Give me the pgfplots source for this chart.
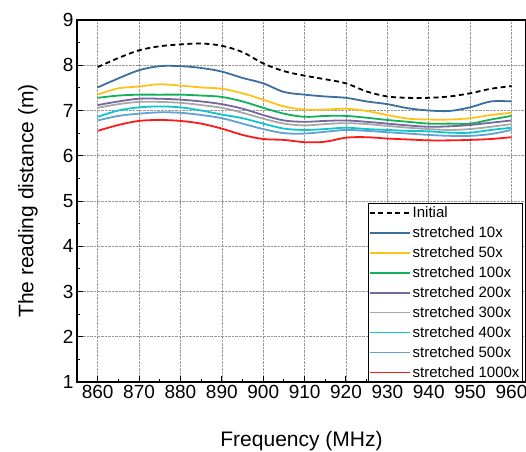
\documentclass[border=0pt]{standalone}
\usepackage{fontspec}
\setmainfont{Liberation Sans}
\usepackage{pgfplots}
\pgfplotsset{compat=1.18}

\definecolor{cTen}{HTML}{3C6E9E}
\definecolor{cFifty}{HTML}{FFC21A}
\definecolor{cHund}{HTML}{12B05A}
\definecolor{cTwoH}{HTML}{75689E}
\definecolor{cThreeH}{HTML}{A8A8A8}
\definecolor{cFourH}{HTML}{10C4CC}
\definecolor{cFiveH}{HTML}{63A0D4}
\definecolor{cThou}{HTML}{FF1A1A}

\begin{document}
\begin{tikzpicture}
\path[use as bounding box] (-77bp,-70bp) rectangle (449bp,382bp);
\begin{axis}[
  at={(0,0)}, anchor=south west,
  scale only axis,
  width=449bp, height=362bp,
  xmin=855, xmax=963.5,
  ymin=1, ymax=9,
  xtick={860,870,...,960},
  ytick={1,2,...,9},
  minor x tick num=1,
  minor y tick num=1,
  xtick pos=bottom, ytick pos=left,
  tick align=inside,
  major tick length=6bp,
  minor tick length=3.5bp,
  every tick/.style={black, line width=1bp},
  axis line style={black, line width=1.5bp},
  grid=major,
  major grid style={densely dotted, gray!80, line width=0.6bp},
  /pgf/number format/assume math mode=true,
  /pgf/number format/1000 sep={},
  tick label style={font=\fontsize{19bp}{22bp}\selectfont},
  label style={font=\fontsize{21bp}{25bp}\selectfont},
  xlabel={Frequency (MHz)},
  ylabel={The reading distance (m)},
  xlabel style={at={(axis description cs:0.5,-0.162)}, anchor=center},
  ylabel style={at={(axis description cs:-0.109,0.5)}, anchor=center},
  legend cell align=left,
  legend style={at={(rel axis cs:0.993,0)}, anchor=south east,
    font=\fontsize{15bp}{17bp}\selectfont, draw=black, line width=0.8bp,
    inner sep=1bp, row sep=3.6bp},
  legend image code/.code={\draw[#1, line width=1.8bp] (0bp,0bp) -- (40bp,0bp);},
  every axis plot/.append style={smooth, tension=0.55, line width=1.8bp, no markers},
]
\addplot[black, dash pattern=on 5bp off 3.5bp] coordinates {
(860,7.96)(865,8.16)(870,8.33)(875,8.42)(880,8.46)(885,8.48)(890,8.43)
(895,8.29)(900,8.04)(905,7.87)(910,7.77)(915,7.69)(920,7.60)(925,7.42)
(930,7.31)(935,7.28)(940,7.28)(945,7.31)(950,7.38)(955,7.48)(960,7.54)};
\addlegendentry{Initial}
\addplot[cTen] coordinates {
(860,7.51)(865,7.71)(870,7.89)(875,7.98)(880,7.98)(885,7.94)(890,7.86)
(895,7.72)(900,7.60)(905,7.41)(910,7.35)(915,7.31)(920,7.28)(925,7.20)
(930,7.14)(935,7.05)(940,7.00)(945,6.99)(950,7.07)(955,7.20)(960,7.20)};
\addlegendentry{stretched 10x}
\addplot[cFifty] coordinates {
(860,7.35)(865,7.49)(870,7.53)(875,7.58)(880,7.55)(885,7.51)(890,7.48)
(895,7.38)(900,7.24)(905,7.09)(910,7.02)(915,7.02)(920,7.04)(925,6.99)
(930,6.90)(935,6.82)(940,6.80)(945,6.80)(950,6.83)(955,6.90)(960,6.95)};
\addlegendentry{stretched 50x}
\addplot[cHund] coordinates {
(860,7.28)(865,7.33)(870,7.35)(875,7.35)(880,7.35)(885,7.33)(890,7.30)
(895,7.20)(900,7.06)(905,6.93)(910,6.86)(915,6.88)(920,6.88)(925,6.84)
(930,6.79)(935,6.75)(940,6.71)(945,6.71)(950,6.71)(955,6.80)(960,6.88)};
\addlegendentry{stretched 100x}
\addplot[cTwoH] coordinates {
(860,7.12)(865,7.20)(870,7.26)(875,7.26)(880,7.24)(885,7.20)(890,7.14)
(895,7.04)(900,6.90)(905,6.78)(910,6.75)(915,6.77)(920,6.78)(925,6.75)
(930,6.71)(935,6.67)(940,6.64)(945,6.65)(950,6.68)(955,6.73)(960,6.78)};
\addlegendentry{stretched 200x}
\addplot[cThreeH] coordinates {
(860,7.06)(865,7.14)(870,7.19)(875,7.19)(880,7.17)(885,7.12)(890,7.06)
(895,6.95)(900,6.82)(905,6.71)(910,6.67)(915,6.70)(920,6.72)(925,6.70)
(930,6.66)(935,6.62)(940,6.59)(945,6.57)(950,6.59)(955,6.64)(960,6.70)};
\addlegendentry{stretched 300x}
\addplot[cFourH] coordinates {
(860,6.86)(865,7.00)(870,7.07)(875,7.09)(880,7.07)(885,7.00)(890,6.91)
(895,6.83)(900,6.71)(905,6.60)(910,6.57)(915,6.59)(920,6.62)(925,6.59)
(930,6.57)(935,6.55)(940,6.54)(945,6.51)(950,6.51)(955,6.57)(960,6.62)};
\addlegendentry{stretched 400x}
\addplot[cFiveH] coordinates {
(860,6.78)(865,6.88)(870,6.93)(875,6.96)(880,6.95)(885,6.90)(890,6.83)
(895,6.71)(900,6.59)(905,6.50)(910,6.49)(915,6.53)(920,6.57)(925,6.55)
(930,6.52)(935,6.49)(940,6.46)(945,6.44)(950,6.44)(955,6.48)(960,6.57)};
\addlegendentry{stretched 500x}
\addplot[cThou] coordinates {
(860,6.55)(865,6.68)(870,6.77)(875,6.79)(880,6.77)(885,6.71)(890,6.60)
(895,6.46)(900,6.37)(905,6.35)(910,6.30)(915,6.31)(920,6.40)(925,6.41)
(930,6.38)(935,6.36)(940,6.34)(945,6.34)(950,6.35)(955,6.37)(960,6.41)};
\addlegendentry{stretched 1000x}
\end{axis}
\end{tikzpicture}
\end{document}
